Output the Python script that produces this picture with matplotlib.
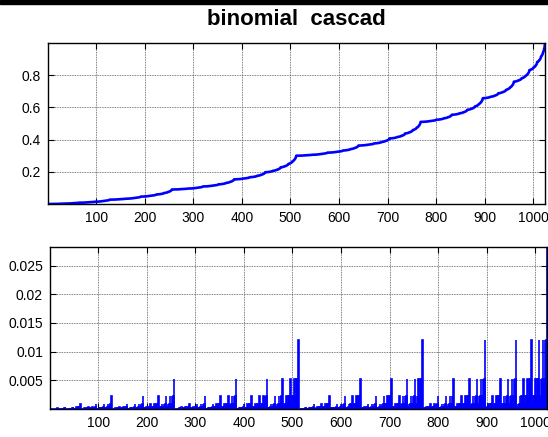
import numpy as np
import matplotlib
matplotlib.use("Agg")
import matplotlib.pyplot as plt
from matplotlib.patches import Rectangle

# binomial cascade: each interval splits its mass into left/right parts
weights = [0.3, 0.7]
levels = 10

top_yticks = [0.2, 0.4, 0.6, 0.8]
bottom_yticks = [0.005, 0.01, 0.015, 0.02, 0.025]
bottom_yticklabels = ['0.005', '0.01', '0.015', '0.02', '0.025']
xticks = [100, 200, 300, 400, 500, 600, 700, 800, 900, 1000]

mu = np.array([1.0])
for _ in range(levels):
    mu = np.kron(mu, weights)
x = np.arange(1, len(mu) + 1)

plt.rcParams['font.family'] = ['Liberation Sans', 'DejaVu Sans']
plt.rcParams['font.size'] = 10

fig = plt.figure(figsize=(5.48, 4.37), dpi=100)
W, H = 548.0, 437.0

def axes_px(left, top, right, bottom):
    return fig.add_axes([left / W, 1 - bottom / H, (right - left) / W, (bottom - top) / H])

ax1 = axes_px(48, 43, 545, 204)
ax2 = axes_px(50, 247, 547, 409)

ax1.plot(x, np.cumsum(mu), color='#0000ff', lw=1.9)
ax1.set_ylim(0, 1)
ax1.set_yticks(top_yticks)
ax1.set_yticklabels(['0.2', '0.4', '0.6', '0.8'])

ax2.bar(x, mu, width=1.0, color='#0000ff', edgecolor='#0000ff', linewidth=1.2)
ax2.set_ylim(0, mu.max())
ax2.set_yticks(bottom_yticks)
ax2.set_yticklabels(bottom_yticklabels)

for ax in (ax1, ax2):
    ax.set_xlim(1, len(mu))
    ax.set_xticks(xticks)
    ax.grid(True, color='#555555', linestyle=(0, (1, 1)), linewidth=0.6)
    ax.set_axisbelow(True)
    ax.tick_params(direction='in', length=4, width=0.8, top=True, right=True,
                   labelsize=10, pad=5, color='black')
    for s in ax.spines.values():
        s.set_linewidth(1.0)

ax1.set_title('binomial  cascad', fontsize=16, fontweight='bold', pad=13)

# dark strip along the top edge
fig.patches.append(Rectangle((0, 1 - 4 / H), 1, 4 / H, transform=fig.transFigure,
                             color='black', zorder=10))

fig.savefig('out.png', dpi=100)
